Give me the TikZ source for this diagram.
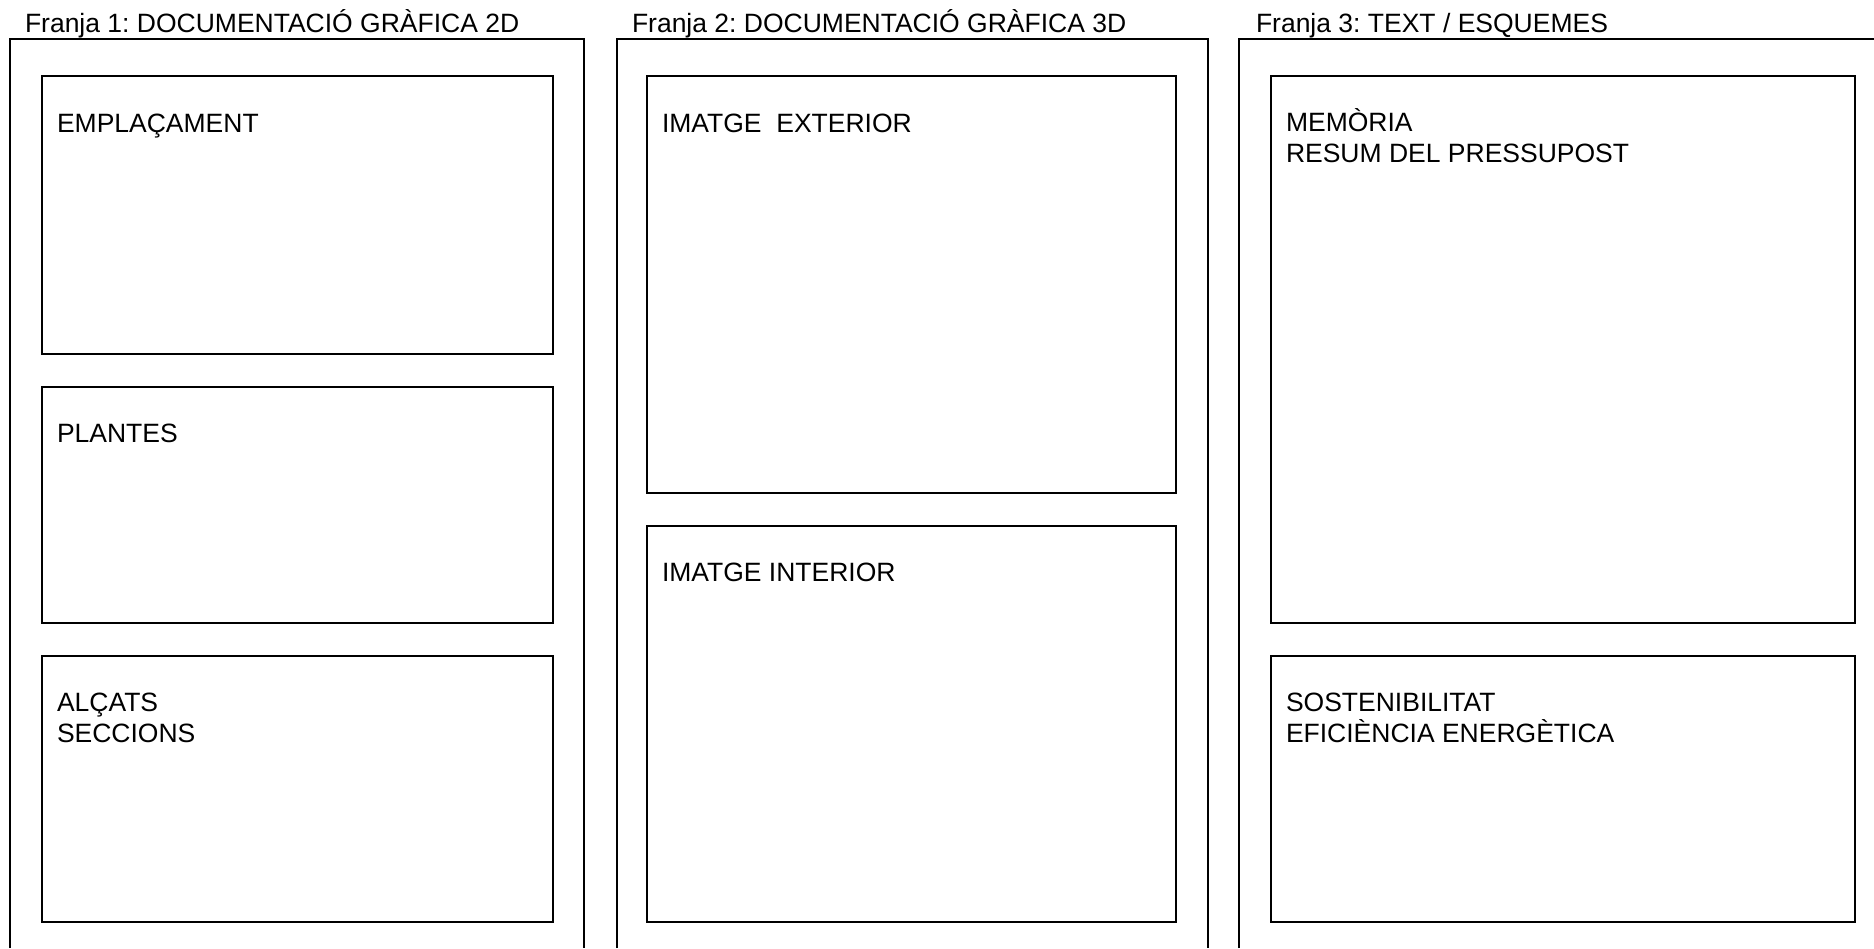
\documentclass[tikz,border=0pt]{standalone}
\usepackage{fontspec}
\setmainfont{Liberation Sans}
\frenchspacing
\begin{document}
\begin{tikzpicture}[x=1pt,y=-1pt,
  frame/.style={draw=black,line width=2pt,line cap=butt,line join=miter},
  panel/.style={draw=black,line width=2pt,fill=none,inner sep=0pt,outer sep=0pt,anchor=north west},
  lbl/.style={anchor=base west,inner sep=0pt,outer sep=0pt,font=\fontsize{26.5}{31}\selectfont}
]
\useasboundingbox[fill=white] (0,0) rectangle (1874,948);
% outer frames (open at the bottom)
\draw[frame] (9.5,948) -- (9.5,39) -- (583.5,39) -- (583.5,948);
\draw[frame] (616.5,948) -- (616.5,39) -- (1207.5,39) -- (1207.5,948);
\draw[frame] (1239,948) -- (1239,39) -- (1874,39);
% headers
\node[lbl] (h1) at (25,32) {Franja 1: DOCUMENTACIÓ GRÀFICA 2D};
\node[lbl] (h2) at (632,32) {Franja 2: DOCUMENTACIÓ GRÀFICA 3D};
\node[lbl] (h3) at (1256,32) {Franja 3: TEXT / ESQUEMES};
% column 1
\node[panel,minimum width=511pt,minimum height=278pt] (emp) at (42,76) {};
\node[panel,minimum width=511pt,minimum height=236pt] (pla) at (42,387) {};
\node[panel,minimum width=511pt,minimum height=266pt] (alc) at (42,656) {};
% column 2
\node[panel,minimum width=529pt,minimum height=417pt] (ext) at (647,76) {};
\node[panel,minimum width=529pt,minimum height=396pt] (int) at (647,526) {};
% column 3
\node[panel,minimum width=584pt,minimum height=547pt] (mem) at (1271,76) {};
\node[panel,minimum width=584pt,minimum height=266pt] (sos) at (1271,656) {};
% labels
\node[lbl] (t1) at (57,132) {EMPLAÇAMENT};
\node[lbl] (t2) at (57,442) {PLANTES};
\node[lbl] (t3a) at (57,711) {ALÇATS};
\node[lbl] (t3b) at (57,742) {SECCIONS};
\node[lbl] (t4) at (662,132) {IMATGE\ \ EXTERIOR};
\node[lbl] (t5) at (662,581) {IMATGE INTERIOR};
\node[lbl] (t6a) at (1286,131) {MEMÒRIA};
\node[lbl] (t6b) at (1286,162) {RESUM DEL PRESSUPOST};
\node[lbl] (t7a) at (1286,711) {SOSTENIBILITAT};
\node[lbl] (t7b) at (1286,742) {EFICIÈNCIA ENERGÈTICA};
\end{tikzpicture}
\end{document}
